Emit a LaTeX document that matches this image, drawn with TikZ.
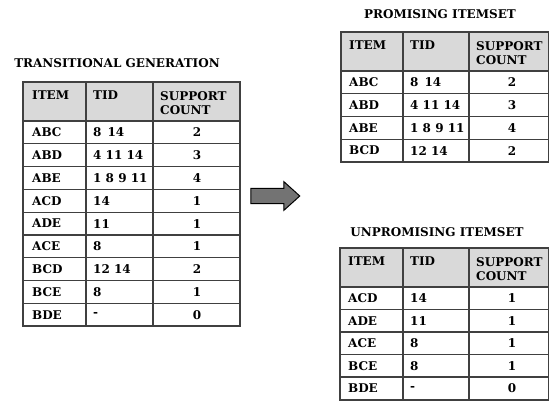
\documentclass[tikz,border=0pt]{standalone}
\usepackage{fontspec}
\setmainfont{DejaVu Serif}
\usetikzlibrary{shapes.arrows}

\tikzset{
  gridline/.style={draw=black!75, line width=1.1pt},
  hdr/.style={fill=black!15},
  ttl/.style={font=\bfseries\fontsize{12}{13}\selectfont, inner sep=0pt},
  cell/.style={anchor=west, font=\bfseries\fontsize{12}{13}\selectfont, inner sep=0pt},
  num/.style={anchor=center, font=\bfseries\fontsize{12}{13}\selectfont, inner sep=0pt},
  headtext/.style={anchor=north west, align=left, font=\bfseries\fontsize{12}{14}\selectfont, inner sep=0pt}
}

\begin{document}
\begin{tikzpicture}[x=1pt,y=-1pt]
\useasboundingbox (0,0) rectangle (549,401);

% transitional generation
\node[ttl] (tgtitle) at (117,63) {TRANSITIONAL GENERATION};
\fill[hdr] (23,82) rectangle (240,121);
\node[headtext] (tgh1) at (32,91) {ITEM};
\node[headtext] (tgh2) at (93,91) {TID};
\node[headtext] (tgh3) at (160,91) {SUPPORT\\COUNT};
\foreach \itm/\tid/\sc [count=\i] in {ABC/8\enspace14/2, ABD/4 11 14/3, ABE/1 8 9 11/4,
    ACD/14/1, ADE/11/1, ACE/8/1, BCD/12 14/2, BCE/8/1, BDE/-/0} {
  \node[cell] (tg-\i-a) at (32,{121+22.8*\i-11.4}) {\itm};
  \node[cell] (tg-\i-b) at (93,{121+22.8*\i-11.4}) {\tid};
  \node[num] (tg-\i-c) at (197,{121+22.8*\i-11.4}) {\sc};
  \draw[gridline] (23,{121+22.8*(\i-1)}) -- (240,{121+22.8*(\i-1)});
}
\draw[gridline] (23,82) rectangle (240,326);
\draw[gridline] (86,82) -- (86,326);
\draw[gridline] (153,82) -- (153,326);

% arrow
\node[single arrow, draw=black, fill=black!55, line width=1pt, inner xsep=0pt, inner ysep=7.2pt,
  minimum height=49pt, single arrow head extend=6.6pt, single arrow tip angle=84] (arrow) at (271,196) {};

% promising itemset
\node[ttl] (ptitle) at (440,14) {PROMISING ITEMSET};
\fill[hdr] (341,32) rectangle (549,71);
\node[headtext] (ph1) at (349,41) {ITEM};
\node[headtext] (ph2) at (410,41) {TID};
\node[headtext] (ph3) at (476,41) {SUPPORT\\COUNT};
\foreach \itm/\tid/\sc [count=\i] in {ABC/8\enspace14/2, ABD/4 11 14/3, ABE/1 8 9 11/4, BCD/12 14/2} {
  \node[cell] (p-\i-a) at (349,{71+22.75*\i-11.4}) {\itm};
  \node[cell] (p-\i-b) at (410,{71+22.75*\i-11.4}) {\tid};
  \node[num] (p-\i-c) at (512,{71+22.75*\i-11.4}) {\sc};
  \draw[gridline] (341,{71+22.75*(\i-1)}) -- (549,{71+22.75*(\i-1)});
}
\draw[gridline] (341,32) rectangle (549,162);
\draw[gridline] (403,32) -- (403,162);
\draw[gridline] (469,32) -- (469,162);

% unpromising itemset
\node[ttl] (utitle) at (437,232) {UNPROMISING ITEMSET};
\fill[hdr] (340,248) rectangle (549,287);
\node[headtext] (uh1) at (348,257) {ITEM};
\node[headtext] (uh2) at (410,257) {TID};
\node[headtext] (uh3) at (476,257) {SUPPORT\\COUNT};
\foreach \itm/\tid/\sc [count=\i] in {ACD/14/1, ADE/11/1, ACE/8/1, BCE/8/1, BDE/-/0} {
  \node[cell] (u-\i-a) at (348,{287+22.5*\i-11.25}) {\itm};
  \node[cell] (u-\i-b) at (410,{287+22.5*\i-11.25}) {\tid};
  \node[num] (u-\i-c) at (512,{287+22.5*\i-11.25}) {\sc};
  \draw[gridline] (340,{287+22.5*(\i-1)}) -- (549,{287+22.5*(\i-1)});
}
\draw[gridline] (340,248) rectangle (549,400);
\draw[gridline] (403,248) -- (403,400);
\draw[gridline] (469,248) -- (469,400);
\end{tikzpicture}
\end{document}
